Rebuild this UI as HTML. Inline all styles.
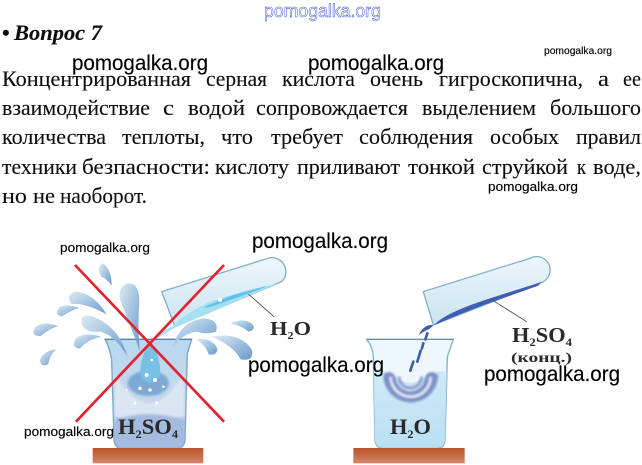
<!DOCTYPE html>
<html lang="ru"><head><meta charset="utf-8"><style>
html,body{margin:0;padding:0;background:#fff}
svg{display:block}
.t{font-family:"Liberation Serif",serif;font-size:22px;fill:#111;stroke:#111;stroke-width:.12}
.w{font-family:"Liberation Sans",sans-serif;fill:#000}
.b{font-family:"Liberation Serif",serif;font-weight:bold;fill:#2a2a2a}
</style></head><body>
<svg width="642" height="465" viewBox="0 0 642 465" xmlns="http://www.w3.org/2000/svg">
<defs>
<filter id="s" x="-5%" y="-5%" width="110%" height="110%"><feGaussianBlur stdDeviation="0.3"/></filter>
<filter id="i" x="-5%" y="-5%" width="110%" height="110%"><feGaussianBlur stdDeviation="0.5"/></filter>
<filter id="p" x="-20%" y="-20%" width="140%" height="140%"><feGaussianBlur stdDeviation="7"/></filter>
<filter id="q" x="-20%" y="-20%" width="140%" height="140%"><feGaussianBlur stdDeviation="3.5"/></filter>
<linearGradient id="drop" x1="0" y1="0" x2="1" y2="1"><stop offset="0" stop-color="#dbe9f4"/><stop offset=".5" stop-color="#a3c3e0"/><stop offset="1" stop-color="#6a99c9"/></linearGradient>
<linearGradient id="acid" x1="0" y1="0" x2="0" y2="1"><stop offset="0" stop-color="#b9d9ef"/><stop offset=".6" stop-color="#c5d7ec"/><stop offset="1" stop-color="#9cb7dd"/></linearGradient>
<linearGradient id="water" x1="0" y1="0" x2="0" y2="1"><stop offset="0" stop-color="#cfeaf7"/><stop offset="1" stop-color="#b9dff3"/></linearGradient>
<linearGradient id="tube" x1="0" y1="0" x2="0" y2="1"><stop offset="0" stop-color="#eef7fb"/><stop offset="1" stop-color="#c9e3f1"/></linearGradient>
<linearGradient id="tab" x1="0" y1="0" x2="0" y2="1"><stop offset="0" stop-color="#b9532c"/><stop offset="1" stop-color="#d48669"/></linearGradient>
</defs>
<rect width="642" height="465" fill="#fff"/>

<g filter="url(#s)">
<text x="2" y="40" class="t" style="font-weight:bold">•</text>
<text x="14" y="40" textLength="88" lengthAdjust="spacingAndGlyphs" class="t" style="font-weight:bold;font-style:italic">Вопрос 7</text>

<text x="2" y="86" textLength="189" lengthAdjust="spacingAndGlyphs" class="t">Концентрированная</text>
<text x="206" y="86" textLength="61" lengthAdjust="spacingAndGlyphs" class="t">серная</text>
<text x="282" y="86" textLength="73" lengthAdjust="spacingAndGlyphs" class="t">кислота</text>
<text x="370" y="86" textLength="53" lengthAdjust="spacingAndGlyphs" class="t">очень</text>
<text x="439" y="86" textLength="144" lengthAdjust="spacingAndGlyphs" class="t">гигроскопична,</text>
<text x="598" y="86" textLength="11" lengthAdjust="spacingAndGlyphs" class="t">а</text>
<text x="623" y="86" textLength="18" lengthAdjust="spacingAndGlyphs" class="t">ее</text>

<text x="2" y="115" textLength="148" lengthAdjust="spacingAndGlyphs" class="t">взаимодействие</text>
<text x="163" y="115" textLength="11" lengthAdjust="spacingAndGlyphs" class="t">с</text>
<text x="188" y="115" textLength="57" lengthAdjust="spacingAndGlyphs" class="t">водой</text>
<text x="256" y="115" textLength="152" lengthAdjust="spacingAndGlyphs" class="t">сопровождается</text>
<text x="422" y="115" textLength="114" lengthAdjust="spacingAndGlyphs" class="t">выделением</text>
<text x="550" y="115" textLength="91" lengthAdjust="spacingAndGlyphs" class="t">большого</text>

<text x="2" y="144" textLength="104" lengthAdjust="spacingAndGlyphs" class="t">количества</text>
<text x="122" y="144" textLength="83" lengthAdjust="spacingAndGlyphs" class="t">теплоты,</text>
<text x="221" y="144" textLength="32" lengthAdjust="spacingAndGlyphs" class="t">что</text>
<text x="271" y="144" textLength="72" lengthAdjust="spacingAndGlyphs" class="t">требует</text>
<text x="359" y="144" textLength="114" lengthAdjust="spacingAndGlyphs" class="t">соблюдения</text>
<text x="490" y="144" textLength="69" lengthAdjust="spacingAndGlyphs" class="t">особых</text>
<text x="576" y="144" textLength="65" lengthAdjust="spacingAndGlyphs" class="t">правил</text>

<text x="2" y="174" textLength="75" lengthAdjust="spacingAndGlyphs" class="t">техники</text>
<text x="82" y="174" textLength="128" lengthAdjust="spacingAndGlyphs" class="t">безпасности:</text>
<text x="215" y="174" textLength="74" lengthAdjust="spacingAndGlyphs" class="t">кислоту</text>
<text x="297" y="174" textLength="103" lengthAdjust="spacingAndGlyphs" class="t">приливают</text>
<text x="408" y="174" textLength="67" lengthAdjust="spacingAndGlyphs" class="t">тонкой</text>
<text x="482" y="174" textLength="86" lengthAdjust="spacingAndGlyphs" class="t">струйкой</text>
<text x="577" y="174" textLength="9" lengthAdjust="spacingAndGlyphs" class="t">к</text>
<text x="593" y="174" textLength="48" lengthAdjust="spacingAndGlyphs" class="t">воде,</text>

<text x="2" y="203" textLength="25" lengthAdjust="spacingAndGlyphs" class="t">но</text>
<text x="33" y="203" textLength="22" lengthAdjust="spacingAndGlyphs" class="t">не</text>
<text x="60" y="203" textLength="87" lengthAdjust="spacingAndGlyphs" class="t">наоборот.</text>
</g>

<!-- LEFT ILLUSTRATION -->
<g transform="translate(0,220) scale(.33333)" filter="url(#i)">
  <path d="M315 358H575L562 400L555 660Q552 685 530 685H365Q345 685 342 660L335 420Q330 385 315 358Z" fill="url(#acid)" stroke="#7aa5c6" stroke-width="4"/>
  <path d="M315 358H575" stroke="#4b7d9f" stroke-width="3"/>
  <path d="M345 460Q445 640 552 460L553 590Q445 610 345 590Z" fill="#dfe9f4" opacity=".85" filter="url(#q)"/>
  <ellipse cx="445" cy="490" rx="62" ry="38" fill="#7ea9d5" filter="url(#q)"/>
  <path d="M345 600Q445 565 552 600V655Q550 684 530 684H365Q347 684 345 655Z" fill="#a3bbdf" filter="url(#q)"/>
  <path d="M452 362Q410 430 425 475Q455 505 480 470Q485 420 452 362Z" fill="#79c0e6"/>
  <g fill="#fff"><circle cx="440" cy="465" r="6"/><circle cx="465" cy="480" r="6"/><circle cx="420" cy="505" r="5"/><circle cx="450" cy="510" r="5"/><circle cx="490" cy="500" r="4"/><circle cx="405" cy="550" r="4"/><circle cx="470" cy="548" r="4"/><circle cx="380" cy="510" r="3"/><circle cx="455" cy="420" r="4"/></g>
  <path d="M518 380Q540 305 610 295Q660 298 648 335Q620 345 590 335Q550 340 518 380Z" fill="url(#drop)"/>
  <path d="M382 410Q360 325 285 292Q240 275 245 310Q255 340 300 335Q345 345 382 410Z" fill="url(#drop)"/>
  <path d="M420 395Q412 330 418 250Q420 190 385 190Q350 200 362 245Q385 300 420 395Z" fill="url(#drop)"/>
  <path d="M335 197Q335 150 310 130Q288 140 303 170Q320 175 335 197Z" fill="url(#drop)"/>
  <path d="M320 283Q280 218 225 215Q195 228 215 252Q255 248 320 283Z" fill="url(#drop)"/>
  <path d="M238 264Q200 250 178 262Q160 282 185 290Q210 272 238 264Z" fill="url(#drop)"/>
  <path d="M174 318Q130 302 105 322Q90 348 122 348Q145 328 174 318Z" fill="url(#drop)"/>
  <path d="M304 350Q255 335 228 355Q210 382 240 386Q260 360 304 350Z" fill="url(#drop)"/>
  <path d="M168 388Q130 392 120 420Q122 445 145 432Q150 405 168 388Z" fill="url(#drop)"/>
  <path d="M690 310Q730 292 755 310Q772 328 745 335Q725 316 690 310Z" fill="url(#drop)"/>
  <path d="M590 358Q635 352 652 385Q652 408 626 403Q618 377 590 358Z" fill="url(#drop)"/>
  <path d="M636 350Q720 335 755 388Q765 425 722 418Q700 378 636 350Z" fill="url(#drop)"/>
  <!-- tube -->
  <path d="M485 215L800 116A42 42 0 0 1 845 185L525 320Z" fill="url(#tube)" stroke="#83b1cb" stroke-width="4"/>
  <path d="M835 190L745 210L640 242Q560 275 525 315Q480 335 450 365Q490 345 530 320L800 205Z" fill="#a5dff2"/>
  <path d="M800 198L700 225L620 258Q600 268 640 258L780 208Z" fill="#60c0ea"/>
  <circle cx="660" cy="240" r="6" fill="#fff"/>
  <path d="M745 222L822 290" stroke="#444" stroke-width="2.4" fill="none"/>
  <rect x="278" y="684" width="332" height="46" fill="url(#tab)"/>
  <path d="M225 135L672 605M672 135L228 605" stroke="#e2202e" stroke-width="8" fill="none"/>
</g>

<!-- RIGHT ILLUSTRATION -->
<g transform="translate(330,220) scale(.33333)" filter="url(#i)">
  <path d="M110 358H370L352 410L345 660Q342 685 320 685H160Q138 685 135 660L130 410Q128 380 110 358Z" fill="#eef8fc" stroke="#7fb0cd" stroke-width="4"/>
  <path d="M110 358H370" stroke="#5f8aa6" stroke-width="3"/>
  <path d="M131 455Q170 448 190 470Q240 505 290 470Q320 448 350 455L345 660Q342 683 320 683H160Q138 683 135 660Z" fill="url(#water)"/>
  <path d="M160 465A82 82 0 0 0 324 465Q300 445 285 470A44 44 0 0 1 197 470Q180 445 160 465Z" fill="#7f90c8" filter="url(#q)"/>
  <path d="M182 470A60 60 0 0 0 302 470" fill="none" stroke="#f2f4fa" stroke-width="9" opacity=".9" filter="url(#q)"/>
  <path d="M207 470A34 34 0 0 0 275 470" fill="none" stroke="#8e9bcc" stroke-width="9" filter="url(#q)"/>
  <circle cx="240" cy="472" r="13" fill="#f1f4fa"/>
  <path d="M312 315Q282 312 266 345Q285 332 298 327Z" fill="#3f5fa8"/>
  <path d="M292 340L286 358M280 370L276 385M272 392L262 425M250 425L241 452" stroke="#3f5fa8" stroke-width="8" fill="none" stroke-linecap="round"/>
  <path d="M280 215L600 115A40 40 0 0 1 640 185L310 315Z" fill="url(#tube)" stroke="#86b3cc" stroke-width="4"/>
  <path d="M312 316Q340 280 480 235L635 186L625 197L490 245Q380 285 312 316Z" fill="#3f5fb2"/>
  <path d="M490 242L590 305" stroke="#444" stroke-width="2.4" fill="none"/>
  <rect x="70" y="684" width="334" height="46" fill="url(#tab)"/>
</g>

<g filter="url(#s)">
  <text x="270" y="335" class="b" font-size="20" textLength="41" lengthAdjust="spacingAndGlyphs">H<tspan font-size="11" dy="4">2</tspan><tspan dy="-4">O</tspan></text>
  <text x="118" y="434" class="b" font-size="22" textLength="60" lengthAdjust="spacingAndGlyphs">H<tspan font-size="12" dy="4">2</tspan><tspan dy="-4">SO</tspan><tspan font-size="12" dy="4">4</tspan></text>
  <text x="390" y="434" class="b" font-size="22" textLength="41" lengthAdjust="spacingAndGlyphs">H<tspan font-size="12" dy="4">2</tspan><tspan dy="-4">O</tspan></text>
  <text x="512" y="342" class="b" font-size="21" textLength="60" lengthAdjust="spacingAndGlyphs">H<tspan font-size="12" dy="4">2</tspan><tspan dy="-4">SO</tspan><tspan font-size="12" dy="4">4</tspan></text>
  <text x="511" y="362" class="b" font-size="14" textLength="61" lengthAdjust="spacingAndGlyphs">(конц.)</text>
</g>

<text x="264" y="17" textLength="117" lengthAdjust="spacingAndGlyphs" font-family="Liberation Sans,sans-serif" font-size="18" fill="#fff" stroke="#2c3fd0" stroke-width=".45">pomogalka.org</text>
<g class="w" stroke="#000" stroke-width=".15">
<text class="w" x="72" y="70" font-size="21" textLength="136" lengthAdjust="spacingAndGlyphs">pomogalka.org</text>
<text class="w" x="308" y="70" font-size="21" textLength="136" lengthAdjust="spacingAndGlyphs">pomogalka.org</text>
<text class="w" x="544" y="54" font-size="10.5" textLength="68" lengthAdjust="spacingAndGlyphs">pomogalka.org</text>
<text class="w" x="488" y="191" font-size="13" textLength="90" lengthAdjust="spacingAndGlyphs">pomogalka.org</text>
<text class="w" x="60" y="252" font-size="13" textLength="90" lengthAdjust="spacingAndGlyphs">pomogalka.org</text>
<text class="w" x="252" y="248" font-size="21" textLength="136" lengthAdjust="spacingAndGlyphs">pomogalka.org</text>
<text class="w" x="248" y="372" font-size="21" textLength="136" lengthAdjust="spacingAndGlyphs">pomogalka.org</text>
<text class="w" x="484" y="381" font-size="21" textLength="136" lengthAdjust="spacingAndGlyphs">pomogalka.org</text>
<text class="w" x="24" y="436" font-size="13" textLength="90" lengthAdjust="spacingAndGlyphs">pomogalka.org</text>
</g>
</svg>
</body></html>
